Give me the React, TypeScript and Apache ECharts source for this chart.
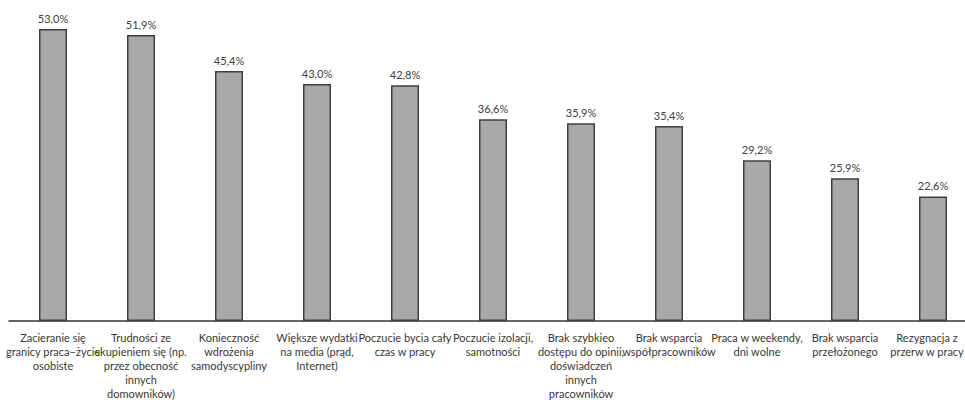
import React, { useEffect, useRef } from "react";
import * as echarts from "echarts";

const categories = [
  "Zacieranie się\ngranicy praca–życie\nosobiste",
  "Trudności ze\nskupieniem się (np.\nprzez obecność\ninnych\ndomowników)",
  "Konieczność\nwdrożenia\nsamodyscypliny",
  "Większe wydatki\nna media (prąd,\nInternet)",
  "Poczucie bycia cały\nczas w pracy",
  "Poczucie izolacji,\nsamotności",
  "Brak szybkieo\ndostępu do opinii,\ndoświadczeń\ninnych\npracowników",
  "Brak wsparcia\nwspółpracowników",
  "Praca w weekendy,\ndni wolne",
  "Brak wsparcia\nprzełożonego",
  "Rezygnacja z\nprzerw w pracy",
];

const values = [53.0, 51.9, 45.4, 43.0, 42.8, 36.6, 35.9, 35.4, 29.2, 25.9, 22.6];

const FONT = "Lato, 'Open Sans', sans-serif";

export default function App() {
  const ref = useRef<HTMLDivElement>(null);
  useEffect(() => {
    if (!ref.current) return;
    const chart = echarts.init(ref.current, undefined, { renderer: "svg" });
    const lastIdx = categories.length - 1;
    chart.setOption({
      animation: false,
      grid: { left: 9, width: 968, top: 18, height: 309, containLabel: false },
      xAxis: {
        type: "category",
        data: categories,
        axisLine: { show: true, lineStyle: { color: "#333333", width: 1.5 } },
        axisTick: { show: false },
        axisLabel: {
          interval: 0,
          color: "#383838",
          fontFamily: FONT,
          fontSize: 11,
          lineHeight: 14,
          margin: 9,
          formatter: (v: string, i: number) =>
            i === lastIdx
              ? v
                  .split("\n")
                  .map((s) => `{last|${s}}`)
                  .join("\n")
              : v,
          rich: {
            last: {
              color: "#383838",
              fontFamily: FONT,
              fontSize: 11,
              lineHeight: 14,
              padding: [0, 12, 0, 0],
            },
          },
        },
      },
      yAxis: {
        type: "value",
        min: 0,
        max: 55,
        show: false,
        splitLine: { show: false },
      },
      series: [
        {
          type: "bar",
          data: values,
          barWidth: 28,
          itemStyle: { color: "#A9A9A9", borderColor: "#3F3F3F", borderWidth: 1.5 },
          label: {
            show: true,
            position: "top",
            distance: 5,
            color: "#404040",
            fontFamily: FONT,
            fontSize: 11,
            formatter: (p: any) => p.value.toFixed(1).replace(".", ",") + "%",
          },
        },
      ],
    });
    return () => chart.dispose();
  }, []);
  return (
    <div style={{ position: "absolute", left: 0, top: 0, width: 965, height: 400, overflow: "hidden" }}>
      <div ref={ref} style={{ width: 990, height: 400, background: "#ffffff" }} />
    </div>
  );
}
